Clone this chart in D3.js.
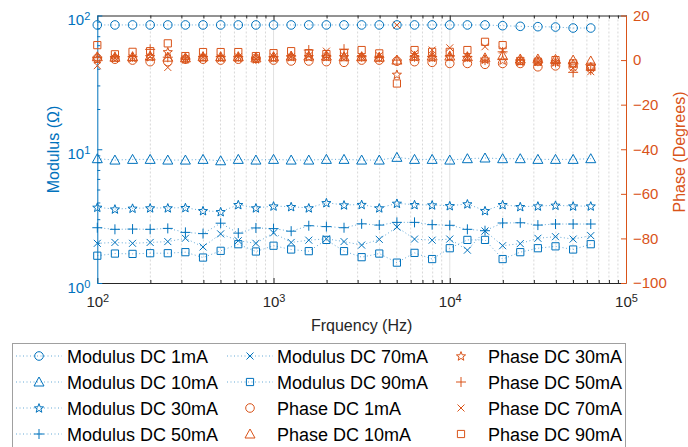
<!DOCTYPE html>
<html><head><meta charset="utf-8">
<script src="https://cdn.jsdelivr.net/npm/d3@7"></script>
<style>body{margin:0;background:#fff}text{font-family:"Liberation Sans",Arial,sans-serif}</style>
</head><body><svg id="c" width="688" height="447"></svg>
<script>
// ---------- data ----------
const frequencies=[100,125.9,158.5,199.5,251.2,316.2,398.1,501.2,631,794.3,1000,1259,1585,1995,2512,3162,3981,5012,6310,7943,10000,12589,15849,19953,25119,31623,39811,50119,63096];
const modulus1mA =[85,85,85,85,85,85,85,85,85,85,85,85,85,85,85,85,85,85,85,85,85,85,85,83.9,83.0,82.5,82.0,80.6,80.6];
const modulus10mA=[8.5,8.3,8.4,8.4,8.3,8.3,8.4,8.2,8.4,8.3,8.4,8.3,8.3,8.4,8.4,8.3,8.3,8.7,8.4,8.4,8.3,8.5,8.6,8.5,8.5,8.4,8.4,8.4,8.5];
const modulus30mA=[3.68,3.57,3.62,3.64,3.64,3.66,3.47,3.41,3.85,3.64,3.76,3.72,3.64,3.98,3.83,3.86,3.64,3.94,3.85,3.83,3.78,3.90,3.47,3.85,3.72,3.76,3.81,3.76,3.76];
const modulus50mA=[2.59,2.52,2.53,2.52,2.56,2.39,2.34,2.80,2.36,2.58,2.55,2.44,2.68,2.64,2.59,2.77,2.71,2.84,2.84,2.73,2.70,2.52,2.46,2.81,2.82,2.71,2.76,2.76,2.76];
const modulus70mA=[1.98,2.01,1.98,2.01,2.04,2.16,1.86,2.33,2.07,1.98,2.37,2.01,2.09,2.14,2.04,1.92,2.12,2.62,2.13,2.09,2.13,1.76,2.45,1.90,1.97,2.16,2.22,2.13,2.26];
const modulus90mA=[1.60,1.66,1.65,1.67,1.67,1.70,1.55,1.74,1.95,1.72,1.90,1.78,1.73,2.10,1.73,1.56,1.66,1.42,1.68,1.51,1.82,2.10,2.10,1.51,1.70,1.82,1.88,1.78,1.95];
const phase1mA =[0.8,0.4,0,-0.7,-0.7,0.4,0.4,0,0.4,0.8,0,-0.4,-0.4,-0.7,-1,0,0,-0.5,-0.7,-1,-1.5,-1.5,-1.9,-1.5,-1.5,-3,-2.6,-3,-3.7];
const phase10mA=[1.5,1.3,1.5,1.8,1.3,1.0,1.5,1.5,1.5,1.0,1.5,1.8,1.8,1.8,1.5,1.5,1.3,0.0,1.8,1.8,1.8,1.5,1.0,2.0,0.5,0.5,0.3,0.0,-0.4];
const phase30mA=[0.5,1.0,1.2,1.5,3.7,0.5,1.2,1.2,1.2,0.5,1.0,1.5,1.5,1.5,1.5,1.5,1.2,-6.4,1.5,1.2,1.5,1.2,0.4,0.0,-0.5,-0.5,-0.8,-1.5,-3.0];
const phase50mA=[1.3,1.5,1.5,4.8,1.3,0.5,1.5,1.5,1.5,0.5,1.5,1.8,4.5,1.8,4.9,1.5,1.2,0.0,1.5,1.5,1.8,1.5,0.0,3.7,0.0,-0.5,-1.0,-5.5,-4.5];
const phase70mA=[-2.5,1.0,1.0,1.5,-3.3,0.5,1.5,1.0,1.5,0.5,1.5,1.5,2.0,4.0,2.0,1.5,2.0,15.7,3.0,4.5,5.5,1.5,6.0,4.5,-0.5,-1.0,-1.0,-3.5,-5.2];
const phase90mA=[6.7,2.6,3.7,4.0,7.5,1.8,3.6,3.6,3.6,1.8,3.1,4.0,3.1,2.7,3.1,4.5,3.0,-10.5,4.5,3.7,3.7,4.5,8.2,6.7,-0.4,-0.7,0,-1.5,-3.0];
const xDecadeLabels=[{v:100,e:"2"},{v:1000,e:"3"},{v:10000,e:"4"},{v:100000,e:"5"}];
const yLeftDecadeLabels=[{v:1,e:"0"},{v:10,e:"1"},{v:100,e:"2"}];
const yRightTicks=[-100,-80,-60,-40,-20,0,20];
const legendLabels=["Modulus DC 1mA","Modulus DC 10mA","Modulus DC 30mA","Modulus DC 50mA","Modulus DC 70mA","Modulus DC 90mA","Phase DC 1mA","Phase DC 10mA","Phase DC 30mA","Phase DC 50mA","Phase DC 70mA","Phase DC 90mA"];

// ---------- setup ----------
const BLUE="#0072BD", ORANGE="#D95319", DARK="#262626";
const X0=97.3,X1=626,Y0=15.5,Y1=283;
const svg=d3.select("#c");
const x=d3.scaleLog().domain([1e2,1e5]).range([X0,X1]);
const yL=d3.scaleLog().domain([1,100]).range([Y1,Y0]);
const yR=d3.scaleLinear().domain([-100,20]).range([Y1,Y0]);
const isDecade=v=>Math.abs(Math.log10(v)-Math.round(Math.log10(v)))<1e-9;

function markerPath(shape){
  switch(shape){
    case "o":{const r=4.3;return `M${-r},0A${r},${r} 0 1,0 ${r},0A${r},${r} 0 1,0 ${-r},0Z`;}
    case "^":{const s=5;return `M0,${-s}L${s},${s*0.8}L${-s},${s*0.8}Z`;}
    case "s":{const s=3.6;return `M${-s},${-s}h${2*s}v${2*s}h${-2*s}Z`;}
    case "+":{const s=5;return `M${-s},0H${s}M0,${-s}V${s}`;}
    case "x":{const s=3.5;return `M${-s},${-s}L${s},${s}M${-s},${s}L${s},${-s}`;}
    case "p":{const R=4.8,r=R*0.42;let p="";for(let i=0;i<10;i++){const a=-Math.PI/2+i*Math.PI/5,rr=i%2?r:R;p+=(i?"L":"M")+(rr*Math.cos(a)).toFixed(2)+","+(rr*Math.sin(a)+0.4).toFixed(2);}return p+"Z";}
  }
}

// ---------- grid ----------
const grid=svg.append("g");
grid.selectAll("line").data(x.ticks().filter(v=>v>100&&v<1e5)).join("line")
  .attr("x1",d=>x(d)).attr("x2",d=>x(d)).attr("y1",Y0).attr("y2",Y1)
  .attr("stroke",d=>isDecade(d)?"#e2e2e2":"#d8d8d8")
  .attr("stroke-dasharray",d=>isDecade(d)?null:"2,2").attr("stroke-width",1);

// ---------- axes ----------
function styleX(g,dir){
  g.selectAll(".tick line").attr("stroke",DARK).attr("y2",d=>(isDecade(d)?5:3)*dir);
  g.select(".domain").attr("stroke",DARK);
}
const xb=svg.append("g").attr("transform",`translate(0,${Y1})`)
  .call(d3.axisBottom(x).tickValues(x.ticks()).tickSizeInner(-5).tickSizeOuter(0).tickPadding(13)
    .tickFormat(d=>isDecade(d)?"10":""));
styleX(xb,-1);
xb.selectAll(".tick text").attr("fill",DARK).attr("font-size",15).attr("font-family","Liberation Sans, Arial, sans-serif")
  .each(function(d){const m=xDecadeLabels.find(o=>Math.abs(o.v-d)<1e-6);if(m)d3.select(this).append("tspan").attr("dy","-0.45em").attr("font-size",11).text(m.e);});
const xt=svg.append("g").attr("transform",`translate(0,${Y0})`)
  .call(d3.axisTop(x).tickValues(x.ticks()).tickSizeInner(-5).tickSizeOuter(0).tickFormat(""));
styleX(xt,1);

const yl=svg.append("g").attr("transform",`translate(${X0},0)`)
  .call(d3.axisLeft(yL).tickValues(yL.ticks()).tickSizeInner(-5).tickSizeOuter(0).tickPadding(7)
    .tickFormat(d=>isDecade(d)?"10":""));
yl.selectAll(".tick line").attr("stroke",BLUE).attr("x2",d=>isDecade(d)?5:3);
yl.select(".domain").attr("stroke",BLUE);
yl.selectAll(".tick text").attr("fill",BLUE).attr("font-size",15).attr("dy","0.6em").attr("font-family","Liberation Sans, Arial, sans-serif")
  .each(function(d){const m=yLeftDecadeLabels.find(o=>Math.abs(o.v-d)<1e-9);if(m)d3.select(this).append("tspan").attr("dy","-0.45em").attr("font-size",11).text(m.e);});

const yr=svg.append("g").attr("transform",`translate(${X1},0)`)
  .call(d3.axisRight(yR).tickValues(yRightTicks).tickSizeInner(-5).tickSizeOuter(0).tickPadding(7).tickFormat(d3.format("d")));
yr.selectAll(".tick line").attr("stroke",ORANGE);
yr.select(".domain").attr("stroke",ORANGE);
yr.selectAll(".tick text").attr("fill",ORANGE).attr("font-size",15).attr("font-family","Liberation Sans, Arial, sans-serif");

// titles
svg.append("text").attr("x",(X0+X1)/2).attr("y",331).attr("text-anchor","middle").attr("font-size",16).attr("fill",DARK).text("Frquency (Hz)");
svg.append("text").attr("transform",`translate(59,149.5) rotate(-90)`).attr("text-anchor","middle").attr("font-size",16).attr("fill",BLUE).text("Modulus (Ω)");
svg.append("text").attr("transform",`translate(685,152) rotate(-90)`).attr("text-anchor","middle").attr("font-size",16).attr("fill",ORANGE).text("Phase (Degrees)");

// ---------- series ----------
const modSeries=[[modulus1mA,"o"],[modulus10mA,"^"],[modulus30mA,"p"],[modulus50mA,"+"],[modulus70mA,"x"],[modulus90mA,"s"]];
const phSeries=[[phase1mA,"o"],[phase10mA,"^"],[phase30mA,"p"],[phase50mA,"+"],[phase70mA,"x"],[phase90mA,"s"]];
const line=d3.line().x(d=>x(d[0])).y(d=>yL(d[1]));
modSeries.forEach(([vals,sh])=>{
  const pts=frequencies.map((f,i)=>[f,vals[i]]);
  svg.append("path").attr("d",line(pts)).attr("fill","none").attr("stroke",BLUE).attr("stroke-opacity",0.6)
    .attr("stroke-width",1).attr("stroke-dasharray","1,2.5");
  svg.append("g").selectAll("path").data(pts).join("path")
    .attr("transform",d=>`translate(${x(d[0])},${yL(d[1])})`).attr("d",markerPath(sh))
    .attr("fill","none").attr("stroke",BLUE).attr("stroke-width",1);
});
phSeries.forEach(([vals,sh])=>{
  const pts=frequencies.map((f,i)=>[f,vals[i]]);
  svg.append("g").selectAll("path").data(pts).join("path")
    .attr("transform",d=>`translate(${x(d[0])},${yR(d[1])})`).attr("d",markerPath(sh))
    .attr("fill","none").attr("stroke",ORANGE).attr("stroke-width",1);
});

// ---------- legend ----------
const lg=svg.append("g");
lg.append("rect").attr("x",12.5).attr("y",343.5).attr("width",613).attr("height",110).attr("fill","#fff").attr("stroke","#a0a0a0");
const colX=[{l0:16,l1:62,m:39,t:67},{l0:227,l1:273,m:250,t:277},{l0:null,l1:null,m:461,t:488}];
const rowY=[356,382,408,434];
const allSeries=modSeries.map(s=>[s[1],true]).concat(phSeries.map(s=>[s[1],false]));
legendLabels.forEach((lab,i)=>{
  const c=colX[Math.floor(i/4)], yy=rowY[i%4], [sh,isMod]=allSeries[i];
  const col=isMod?BLUE:ORANGE;
  if(isMod) lg.append("line").attr("x1",c.l0).attr("x2",c.l1).attr("y1",yy).attr("y2",yy)
    .attr("stroke",BLUE).attr("stroke-opacity",0.6).attr("stroke-dasharray","1,2.5");
  lg.append("path").attr("transform",`translate(${c.m},${yy})`).attr("d",markerPath(sh)).attr("fill","none").attr("stroke",col);
  lg.append("text").attr("x",c.t).attr("y",yy+6.5).attr("font-size",18).attr("fill","#000").text(lab);
});
</script></body></html>
